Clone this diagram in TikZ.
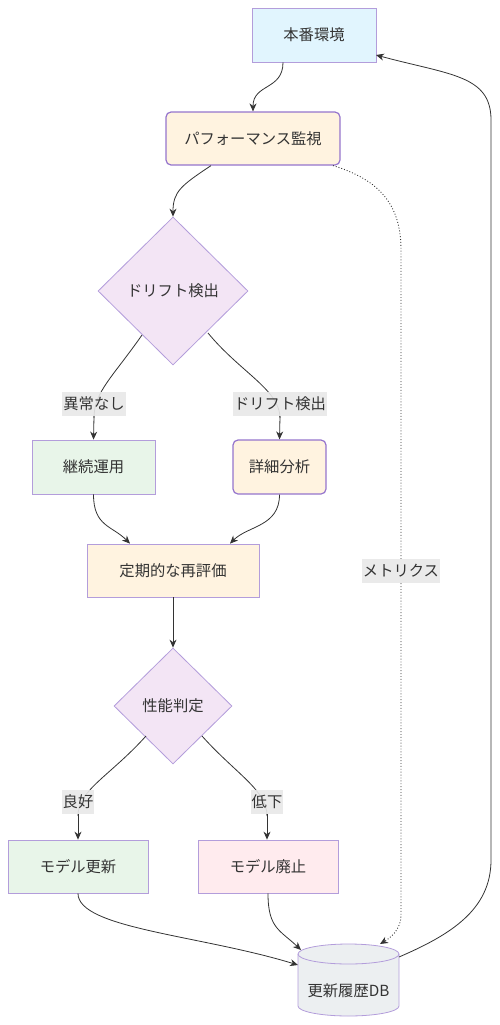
\documentclass[tikz,border=0pt]{standalone}
\usepackage{fontspec}
\newfontfamily\cjk{Noto Sans CJK JP}
\usetikzlibrary{arrows.meta,shapes.geometric,calc}
\definecolor{strokec}{HTML}{B39DDB}
\definecolor{strokeb}{HTML}{9575CD}
\definecolor{txt}{HTML}{333333}
\definecolor{linec}{HTML}{333333}
\definecolor{lblbg}{HTML}{E8E8E8}
\definecolor{cblue}{HTML}{E1F5FE}
\definecolor{corange}{HTML}{FFF3E0}
\definecolor{cpurple}{HTML}{F3E5F5}
\definecolor{cgreen}{HTML}{E8F5E9}
\definecolor{cred}{HTML}{FFEBEE}
\definecolor{cgrey}{HTML}{ECEFF1}
\tikzset{
  fnt/.style={font=\cjk\fontsize{15.3}{18}\selectfont, text=txt},
  box/.style={fnt, draw=strokec, line width=0.8pt, inner sep=0pt},
  rbox/.style={fnt, draw=strokeb, line width=1.2pt, rounded corners=5pt, inner sep=0pt},
  dia/.style={fnt, draw=strokec, line width=0.8pt, diamond, inner sep=0pt, fill=cpurple},
  lbl/.style={fnt, fill=lblbg, fill opacity=0.9, text opacity=1, inner xsep=1pt, inner ysep=3pt, minimum height=24pt},
  conn/.style={draw=linec, line width=0.8pt, -{Stealth[length=8pt,width=7pt]}},
  plain/.style={draw=linec, line width=0.8pt},
}
\begin{document}
\begin{tikzpicture}[x=1pt,y=-1pt]
\useasboundingbox (0,0) rectangle (500,1025);

\node[box, fill=cblue, minimum width=124pt, minimum height=54pt] (env) at (314,35) {本番環境};
\node[rbox, fill=corange, minimum width=174pt, minimum height=53pt] (perf) at (253,138.5) {パフォーマンス監視};
\node[dia, minimum width=150pt, minimum height=148pt] (drift) at (173,291) {ドリフト検出};
\node[box, fill=cgreen, minimum width=123pt, minimum height=54pt] (cont) at (93.5,467) {継続運用};
\node[rbox, fill=corange, minimum width=93pt, minimum height=54pt] (detail) at (279.5,467) {詳細分析};
\node[box, fill=corange, minimum width=172pt, minimum height=53pt] (reeval) at (173,570.5) {定期的な再評価};
\node[dia, minimum width=118pt, minimum height=116pt] (judge) at (173,706) {性能判定};
\node[box, fill=cgreen, minimum width=140pt, minimum height=53pt] (upd) at (78,866.5) {モデル更新};
\node[box, fill=cred, minimum width=140pt, minimum height=53pt] (ret) at (268,866.5) {モデル廃止};

% lines under labels
\coordinate (a1) at (94,418);
\coordinate (a2) at (280,418);
\coordinate (a3) at (78,816);
\coordinate (a4) at (267,816);
\draw[plain] (142,335) .. controls (112,378) and (94,392) .. (a1);
\draw[plain] (208,333) .. controls (240,372) and (280,390) .. (a2);
\draw[plain] (146,736) .. controls (110,776) and (78,790) .. (a3);
\draw[plain] (202,736) .. controls (236,774) and (267,790) .. (a4);

% labels
\node[lbl] (l1) at (94,404) {異常なし};
\node[lbl] (l2) at (280,404) {ドリフト検出};
\node[lbl] (l3) at (78,802) {良好};
\node[lbl] (l4) at (267,802) {低下};
\node[lbl] (l5) at (401,571) {メトリクス};

% cylinder
\filldraw[fill=cgrey, draw=strokec, line width=0.8pt]
  (298,954) -- (298,1006) arc[start angle=180, end angle=360, x radius=50.5pt, y radius=10pt]
  -- (399,954) arc[start angle=0, end angle=180, x radius=50.5pt, y radius=10pt] -- cycle;
\draw[strokec, line width=0.8pt] (298,954) arc[start angle=180, end angle=360, x radius=50.5pt, y radius=10pt];
\node[fnt, minimum width=101pt, minimum height=40pt, inner sep=0pt] (db) at (348.5,991) {更新履歴DB};
\coordinate (dbtop) at (380,944);
\coordinate (dbl1) at (298,965);
\coordinate (dbl2) at (301,950);
\coordinate (dbr) at (399,957);
\coordinate (envr) at (376,55);

% edges
\draw[conn] ([xshift=-31pt]env.south) .. controls +(0,28) and +(0,-28) .. (perf.north);
\draw[conn] ([xshift=-42pt]perf.south) .. controls +(-30,20) and +(0,-25) .. (drift.north);

\draw[conn] (l1.south) -- (cont.north);
\draw[conn] (l2.south) -- (detail.north);

\draw[conn] (cont.south) .. controls +(0,32) and +(-18,-18) .. ([xshift=-43pt]reeval.north);
\draw[conn] (detail.south) .. controls +(0,32) and +(18,-18) .. ([xshift=57pt]reeval.north);
\draw[conn] (reeval.south) -- (judge.north);

\draw[conn] (l3.south) -- (upd.north);
\draw[conn] (l4.south) -- ([xshift=-1pt]ret.north);

\draw[conn] (upd.south) .. controls +(0,35) and (200,935) .. (dbl1);
\draw[conn] (ret.south) .. controls +(0,35) and (280,930) .. (dbl2);

% dotted metrics
\draw[draw=linec, line width=0.9pt, dotted] ([xshift=80pt]perf.south) .. controls (380,180) and (401,205) .. (401,250) -- (l5.north);
\draw[conn, line width=0.9pt, dotted] (l5.south) -- (401,915) .. controls (401,930) and (390,938) .. (dbtop);

% return
\draw[conn] (dbr) .. controls (450,935) and (491,910) .. (491,860) -- (491,120) .. controls (491,75) and (450,75) .. (envr);
\end{tikzpicture}
\end{document}
